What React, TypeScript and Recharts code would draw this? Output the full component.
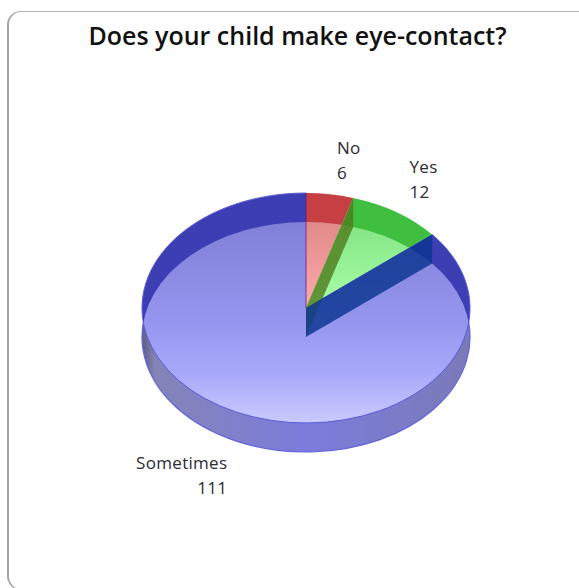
import { PieChart, Pie } from "recharts";

const categories = ["No", "Yes", "Sometimes"];
const counts = [6, 12, 111];

const rows = categories.map((name, i) => ({ name, value: counts[i] }));

const CX = 306;
const CY = 308;
const DEPTH = 29;
const RX = 164;
const RY = 115;
const RAD = Math.PI / 180;

const tones: Record<string, { rim: string; face: string; wall: string; wallOpacity: number }> = {
  No: { rim: "#c63f42", face: "url(#faceRed)", wall: "#000", wallOpacity: 0 },
  Yes: { rim: "#3fbe3f", face: "url(#faceGreen)", wall: "#4f7a1c", wallOpacity: 0.8 },
  Sometimes: { rim: "#3d3db4", face: "url(#faceBlue)", wall: "#0a3490", wallOpacity: 0.82 },
};

// where each label's first line starts, relative to the slice's outer midpoint
const labelOffset: Record<string, { dx: number; dy: number; anchor: "start" | "end" }> = {
  No: { dx: 7, dy: -40, anchor: "start" },
  Yes: { dx: 13, dy: -39, anchor: "start" },
  Sometimes: { dx: -9, dy: 57, anchor: "end" },
};

// squashed point on the pie's ellipse, angle in chart degrees
const pt = (cx: number, cy: number, r: number, a: number) => {
  const k = r / RX;
  return [cx + RX * k * Math.cos(a * RAD), cy - RY * k * Math.sin(a * RAD)];
};

const arc = (cx: number, cy: number, r: number, start: number, end: number) => {
  const [x0, y0] = pt(cx, cy, r, start);
  const [x1, y1] = pt(cx, cy, r, end);
  const large = Math.abs(end - start) > 180 ? 1 : 0;
  return `M${x0} ${y0}A${RX} ${RY} 0 ${large} 1 ${x1} ${y1}`;
};

const wedge = (cx: number, cy: number, r: number, start: number, end: number) => {
  const [x0, y0] = pt(cx, cy, r, start);
  return `M${cx} ${cy}L${x0} ${y0}${arc(cx, cy, r, start, end).replace(/^M[^A]+/, "")}Z`;
};

// front wall: the slice dropped to the pie's base
const BaseSlice = (p: any) =>
  p.name === "Sometimes" ? (
    <g>
      <path d={wedge(p.cx, p.cy, p.outerRadius, p.startAngle, p.endAngle)} fill="url(#wall)" />
      <path d={arc(p.cx, p.cy, p.outerRadius, p.startAngle, p.endAngle)} fill="none" stroke="#6464dc" strokeWidth={1.2} />
    </g>
  ) : (
    <g />
  );

// top surface: dark back rim with the lit face clipped to the base ellipse
const TopSlice = (p: any) => {
  const t = tones[p.name];
  const d = wedge(p.cx, p.cy, p.outerRadius, p.startAngle, p.endAngle);
  return (
    <g>
      <path d={d} fill={t.rim} />
      <path d={d} fill={t.face} clipPath="url(#baseEllipse)" />
      {p.name === "Sometimes" && (
        <path d={arc(p.cx, p.cy, p.outerRadius, p.startAngle, p.endAngle)} fill="none" stroke="#5c5cd8" strokeWidth={1} />
      )}
    </g>
  );
};

// inner wall along the slice's leading edge, plus the seam at twelve o'clock
const EdgeWall = (p: any) => {
  const t = tones[p.name];
  const [x, y] = pt(p.cx, p.cy, p.outerRadius, p.startAngle);
  if (p.name === "No") {
    return <path d={`M${p.cx} ${p.cy}L${x} ${y}`} stroke="#5a1a96" strokeOpacity={0.75} strokeWidth={1} fill="none" />;
  }
  return (
    <path
      d={`M${p.cx} ${p.cy}L${x} ${y}L${x} ${y + DEPTH}L${p.cx} ${p.cy + DEPTH}Z`}
      fill={t.wall}
      fillOpacity={t.wallOpacity}
    />
  );
};

const SliceLabel = (p: any) => {
  const off = labelOffset[p.name];
  const [x, y] = pt(p.cx, p.cy, p.outerRadius, p.midAngle);
  return (
    <text
      x={x + off.dx}
      y={y + off.dy}
      textAnchor={off.anchor}
      fontFamily="'Open Sans', sans-serif"
      fontSize={17}
      letterSpacing={0.3}
      fill="#2b2b33"
    >
      <tspan x={x + off.dx}>{p.name}</tspan>
      <tspan x={x + off.dx} dy={25}>
        {p.value}
      </tspan>
    </text>
  );
};

const pieProps = {
  data: rows,
  dataKey: "value",
  nameKey: "name",
  cx: CX,
  startAngle: 90,
  endAngle: -270,
  innerRadius: 0,
  outerRadius: RX,
  isAnimationActive: false,
  labelLine: false,
};

export default function App() {
  return (
    <div style={{ position: "fixed", left: 0, top: 0, width: 579, height: 588, overflow: "hidden", background: "#fff" }}>
      <div
        style={{
          position: "absolute",
          left: 7,
          top: 11,
          width: 590,
          height: 579,
          boxSizing: "border-box",
          border: "1px solid #b4b4b4",
          borderLeft: "2px solid #a6a6a6",
          borderRadius: 14,
        }}
      />
      <div style={{ position: "absolute", left: 0, top: 0 }}>
        <PieChart width={579} height={588} margin={{ top: 0, right: 0, bottom: 0, left: 0 }}>
          <defs>
            <clipPath id="baseEllipse">
              <ellipse cx={CX} cy={CY + DEPTH} rx={RX} ry={RY} />
            </clipPath>
            <linearGradient id="faceBlue" gradientUnits="userSpaceOnUse" x1={0} y1={223} x2={0} y2={423}>
              <stop offset="0" stopColor="#8080d8" />
              <stop offset="0.5" stopColor="#9696f0" />
              <stop offset="0.75" stopColor="#a8a8fa" />
              <stop offset="1" stopColor="#cacaff" />
            </linearGradient>
            <linearGradient id="faceRed" gradientUnits="userSpaceOnUse" x1={0} y1={223} x2={0} y2={307}>
              <stop offset="0" stopColor="#e08a8a" />
              <stop offset="1" stopColor="#ffaaaa" />
            </linearGradient>
            <linearGradient id="faceGreen" gradientUnits="userSpaceOnUse" x1={0} y1={223} x2={0} y2={307}>
              <stop offset="0" stopColor="#84e484" />
              <stop offset="1" stopColor="#a8ffa8" />
            </linearGradient>
            <linearGradient id="wall" gradientUnits="userSpaceOnUse" x1={142} y1={0} x2={470} y2={0}>
              <stop offset="0" stopColor="#5c5c88" />
              <stop offset="0.04" stopColor="#8484b8" />
              <stop offset="0.5" stopColor="#7c7cdc" />
              <stop offset="1" stopColor="#7a7ab8" />
            </linearGradient>
          </defs>
          <text
            x={297.5}
            y={45}
            textAnchor="middle"
            fontFamily="'Open Sans', sans-serif"
            fontWeight={600}
            fontSize={25}
            fill="#111"
          >
            Does your child make eye-contact?
          </text>
          <Pie {...pieProps} cy={CY + DEPTH} shape={BaseSlice} label={false} />
          <Pie {...pieProps} cy={CY} shape={TopSlice} label={false} />
          <Pie {...pieProps} cy={CY} shape={EdgeWall} label={SliceLabel} />
        </PieChart>
      </div>
    </div>
  );
}
